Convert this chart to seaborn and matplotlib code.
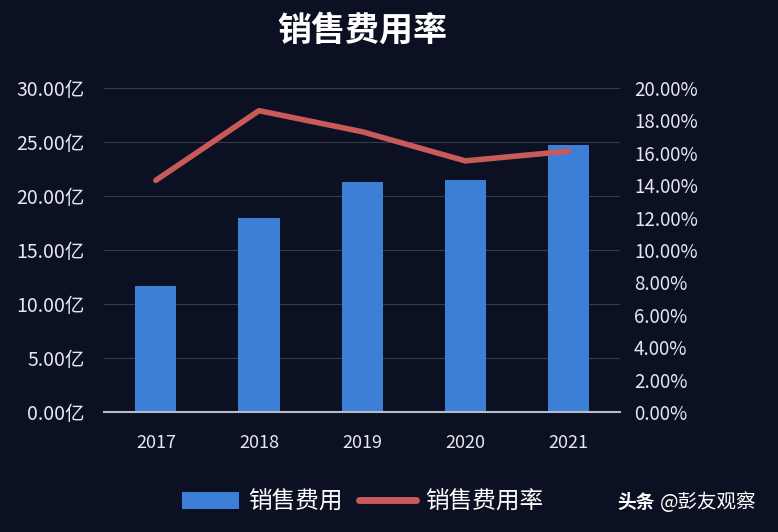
import pandas as pd
import seaborn as sns
import matplotlib.pyplot as plt
from matplotlib.lines import Line2D
from matplotlib.patches import Patch

# data
years = ['2017', '2018', '2019', '2020', '2021']
sales_expense = [11.7, 18.0, 21.3, 21.5, 24.7]       # 亿
expense_rate = [14.3, 18.6, 17.3, 15.5, 16.1]         # %
left_ticks = [0, 5, 10, 15, 20, 25, 30]
right_ticks = [0, 2, 4, 6, 8, 10, 12, 14, 16, 18, 20]

bg = '#0b1122'
bar_color = '#3d7fd6'
line_color = '#c85a5a'
text_color = '#e6e8ee'

sns.set_theme(style='dark')
plt.rcParams['font.family'] = ['Noto Sans CJK SC', 'DejaVu Sans']

df = pd.DataFrame({'年份': years, '销售费用': sales_expense, '销售费用率': expense_rate})
df['pos'] = range(len(df))

fig = plt.figure(figsize=(7.78, 5.32), dpi=100, facecolor=bg)
ax = fig.add_axes([0.134, 0.2256, 0.663, 0.609])
ax.set_facecolor(bg)

sns.barplot(data=df, x='pos', y='销售费用', color=bar_color, width=0.4,
            saturation=1, linewidth=0, edgecolor='none', ax=ax, zorder=2)
ax.set_xlim(-0.5, 4.5)
ax.set_ylim(0, 30)
ax.set_yticks(left_ticks)
ax.set_yticklabels([f'{v:.2f}亿' for v in left_ticks], color=text_color, fontsize=14)
ax.set_xticks(df['pos'])
ax.set_xticklabels(years, color=text_color, fontsize=13)
ax.tick_params(axis='x', pad=16, length=0)
ax.tick_params(axis='y', pad=14, length=0)
ax.grid(axis='y', color='#353b4b', linewidth=0.8, zorder=0)
ax.grid(axis='x', visible=False)
ax.set_xlabel('')
ax.set_ylabel('')
for s in ['top', 'left', 'right']:
    ax.spines[s].set_visible(False)
ax.spines['bottom'].set_color('#b8bcc6')
ax.spines['bottom'].set_linewidth(1.5)

ax2 = ax.twinx()
sns.lineplot(data=df, x='pos', y='销售费用率', color=line_color, linewidth=4,
             ax=ax2, solid_capstyle='round', zorder=3)
ax2.set_ylim(0, 20)
ax2.set_yticks(right_ticks)
ax2.set_yticklabels([f'{v:.2f}%' for v in right_ticks], color=text_color, fontsize=13.5)
ax2.tick_params(axis='y', pad=10, length=0)
ax2.set_ylabel('')
ax2.grid(False)
for s in ax2.spines.values():
    s.set_visible(False)

fig.text(0.466, 0.944, '销售费用率', color='white', fontsize=24.5, fontweight='bold',
         ha='center', va='center')

handles = [Patch(facecolor=bar_color, edgecolor='none', label='销售费用'),
           Line2D([0], [0], color=line_color, linewidth=5, label='销售费用率')]
fig.legend(handles=handles, loc='center', bbox_to_anchor=(0.466, 0.056), ncol=2,
           frameon=False, fontsize=17, labelcolor='white', handlelength=2.4,
           columnspacing=0.7, handletextpad=0.4)

fig.text(0.794, 0.056, '头条', color='white', fontsize=13.5, fontweight='bold',
         ha='left', va='center')
fig.text(0.848, 0.056, '@彭友观察', color='white', fontsize=14,
         ha='left', va='center')

fig.savefig('out.png', dpi=100, facecolor=bg)
